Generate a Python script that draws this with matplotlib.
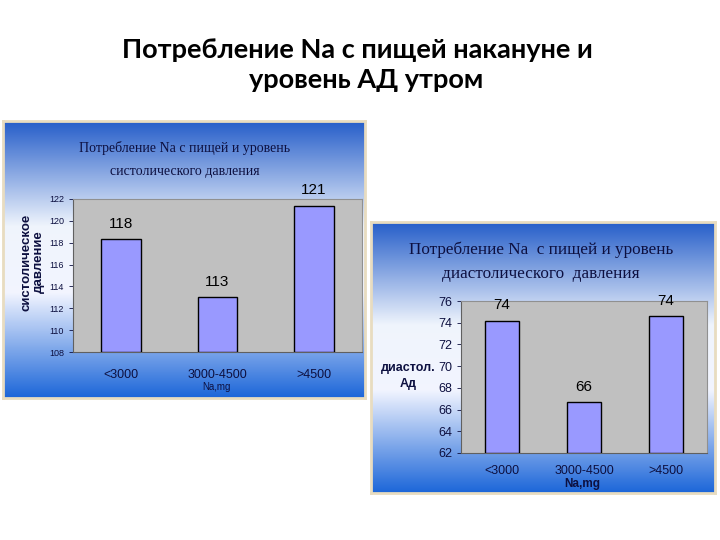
import matplotlib
matplotlib.use('Agg')
import matplotlib.pyplot as plt
import numpy as np

# data
categories = ['<3000', '3000-4500', '>4500']
systolic = [118.3, 113.0, 121.4]
systolic_labels = ['118', '113', '121']
diastolic = [74.2, 66.7, 74.6]
diastolic_labels = ['74', '66', '74']

W, H = 720, 540
BAR = '#9999ff'
GRAY = '#c0c0c0'
NAVY = '#0d1040'


def box(x0, y0, x1, y1):
    # pixel box (top-left origin) -> figure fraction rect
    return [x0 / W, 1 - y1 / H, (x1 - x0) / W, (y1 - y0) / H]


def gradient_panel(fig, rect):
    ax = fig.add_axes(rect, zorder=0)
    t = np.linspace(0, 1, 256)
    stops = [0, 0.38, 0.62, 1]
    r = np.interp(t, stops, [0.15, 0.94, 0.95, 0.11])
    g = np.interp(t, stops, [0.37, 0.96, 0.96, 0.40])
    b = np.interp(t, stops, [0.79, 0.99, 1.00, 0.85])
    img = np.stack([r, g, b], axis=1)[:, None, :]
    ax.imshow(img, aspect='auto', extent=[0, 1, 1, 0])
    ax.set_xticks([])
    ax.set_yticks([])
    for s in ax.spines.values():
        s.set_color('#e8dcc0')
        s.set_linewidth(2)
    return ax


def bar_chart(ax, values, labels, ylim, step, tick_size, xlab_size, pad):
    x = np.arange(len(values)) + 0.5
    ax.set_facecolor(GRAY)
    ax.bar(x, [v - ylim[0] for v in values], bottom=ylim[0], width=0.41,
           color=BAR, edgecolor='black', linewidth=1.0, zorder=3)
    for xi, v, lab in zip(x, values, labels):
        ax.annotate(lab, (xi, v), xytext=(0, 11), textcoords='offset points',
                    ha='center', va='center', fontsize=11,
                    family='Liberation Sans', color='black')
    ax.set_xlim(0, 3)
    ax.set_ylim(*ylim)
    ax.set_yticks(np.arange(ylim[0], ylim[1] + 1, step))
    ax.set_xticks(x)
    ax.set_xticklabels(categories, family='Liberation Sans', fontsize=xlab_size, color=NAVY)
    ax.tick_params(axis='y', labelsize=tick_size, colors=NAVY, length=3, width=0.6)
    ax.tick_params(axis='x', length=0, pad=pad)
    for lab in ax.get_yticklabels():
        lab.set_family('Liberation Sans')
    for s in ['top', 'right']:
        ax.spines[s].set_color('#909090')
    for s in ['left', 'bottom']:
        ax.spines[s].set_color('#606060')


fig = plt.figure(figsize=(7.2, 5.4), dpi=100)
fig.patch.set_facecolor('white')

fig.text(357 / W, 1 - 50 / H, 'Потребление Na с пищей накануне и',
         ha='center', va='center', fontsize=19.5, fontweight='bold', family='Lato')
fig.text(366 / W, 1 - 80 / H, 'уровень АД утром',
         ha='center', va='center', fontsize=19.5, fontweight='bold', family='Lato')

# left panel: systolic
gradient_panel(fig, box(3, 121, 365, 398))
ax1 = fig.add_axes(box(73, 199, 362, 352), zorder=1)
bar_chart(ax1, systolic, systolic_labels, (108, 122), 2, 6.5, 9, 12)
fig.text(185 / W, 1 - 148 / H, 'Потребление Na с пищей и уровень',
         ha='center', va='center', fontsize=10, family='Liberation Serif', color=NAVY)
fig.text(185 / W, 1 - 172 / H, 'систолического давления',
         ha='center', va='center', fontsize=10, family='Liberation Serif', color=NAVY)
fig.text(33 / W, 1 - 262 / H, 'систолическое\nдавление', rotation=90,
         ha='center', va='center', fontsize=9.5, fontweight='bold',
         family='Liberation Sans', color=NAVY, linespacing=1.0)
fig.text(216 / W, 1 - 387 / H, 'Na,mg', ha='center', va='center',
         fontsize=7, family='Liberation Sans', color=NAVY)

# right panel: diastolic
gradient_panel(fig, box(371, 222, 715, 493))
ax2 = fig.add_axes(box(461, 301, 707, 453), zorder=1)
bar_chart(ax2, diastolic, diastolic_labels, (62, 76), 2, 9, 9, 9)
fig.text(541 / W, 1 - 250 / H, 'Потребление Na  с пищей и уровень',
         ha='center', va='center', fontsize=12.3, family='Liberation Serif', color=NAVY)
fig.text(541 / W, 1 - 274 / H, 'диастолического  давления',
         ha='center', va='center', fontsize=12.3, family='Liberation Serif', color=NAVY)
fig.text(408 / W, 1 - 376 / H, 'диастол.\nАд', ha='center', va='center',
         fontsize=9, fontweight='bold', family='Liberation Sans', color=NAVY,
         linespacing=1.5)
fig.text(582 / W, 1 - 484 / H, 'Na,mg', ha='center', va='center',
         fontsize=8.5, fontweight='bold', family='Liberation Sans', color=NAVY)

fig.savefig('out.png', dpi=100)
